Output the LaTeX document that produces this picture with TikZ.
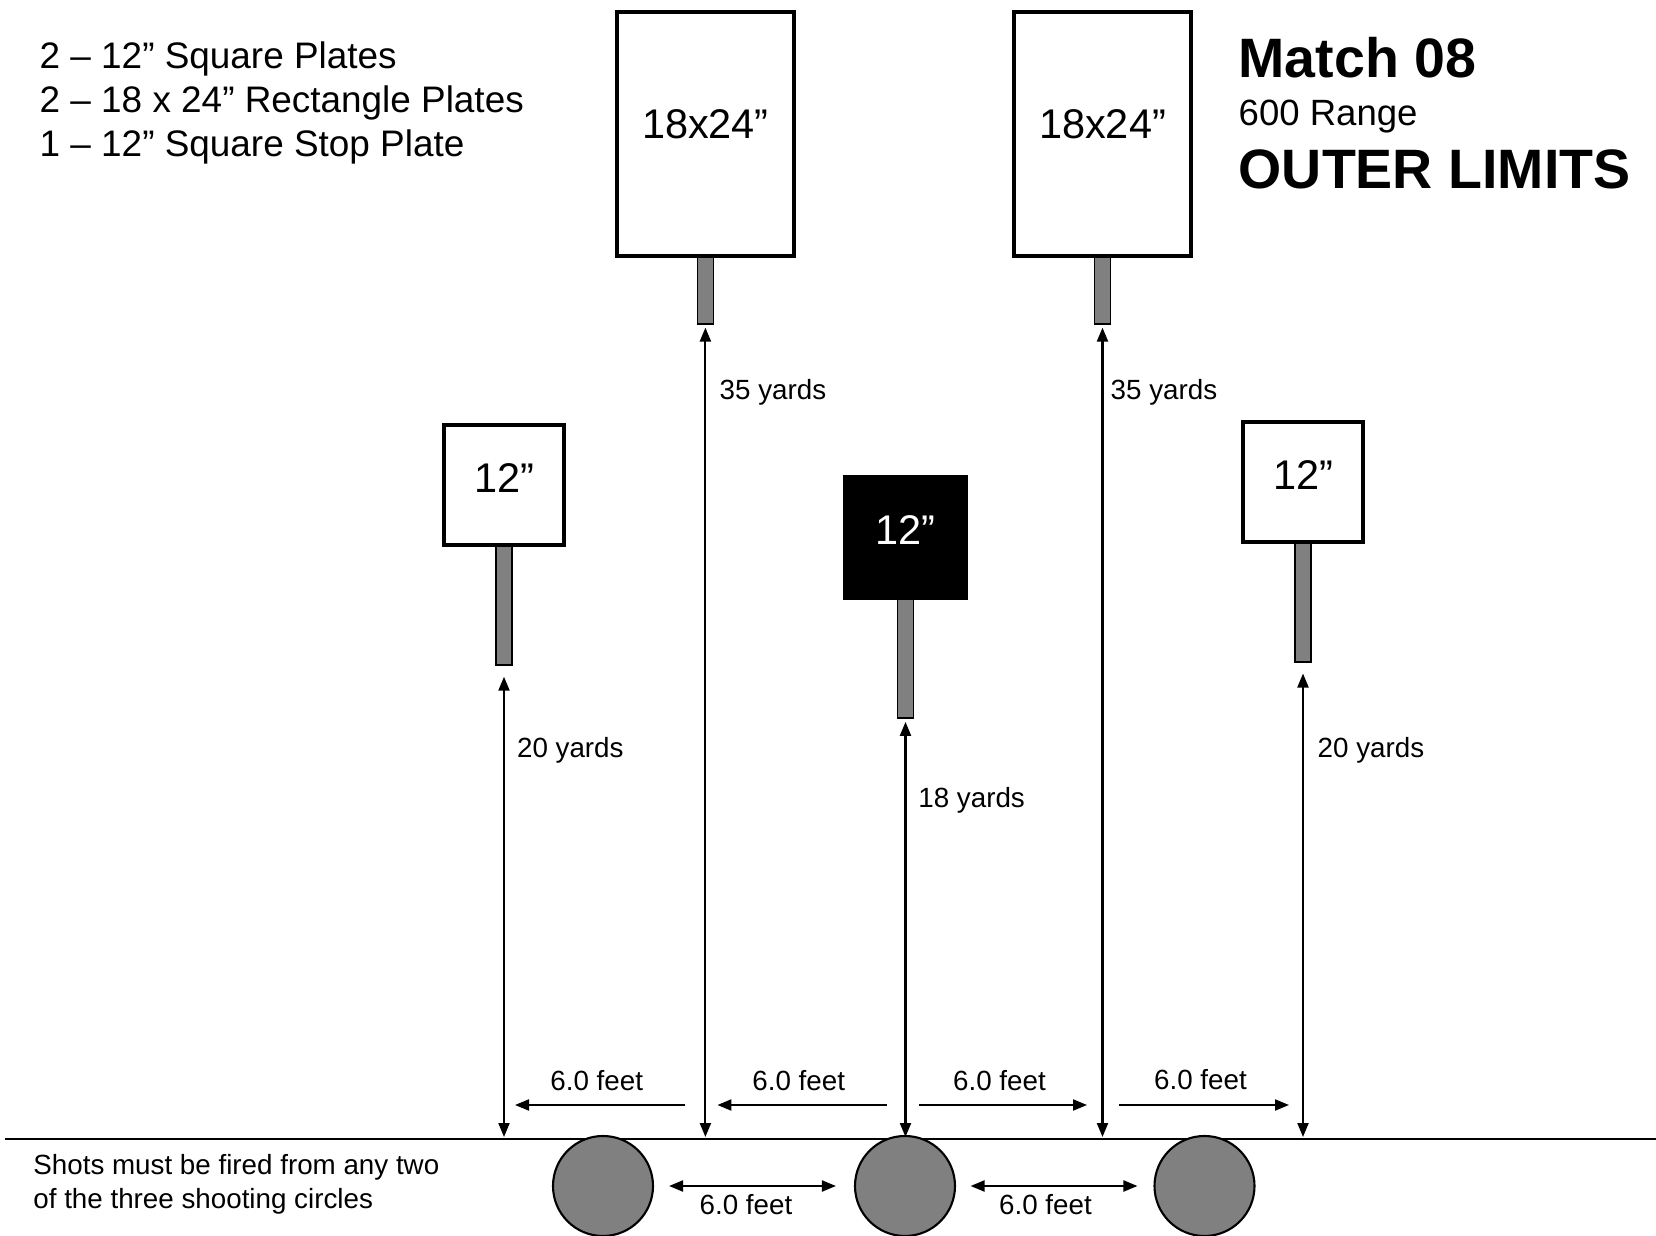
\documentclass[tikz,border=0pt]{standalone}
\usepackage{fontspec}
\setmainfont{Liberation Sans}
\usetikzlibrary{arrows.meta,calc,positioning}

\definecolor{postgray}{RGB}{128,128,128}

\tikzset{
    plate/.style={draw, fill=white, inner sep=0pt, font=\fontsize{11.8}{14}\selectfont},
    rectplate/.style={plate, line width=1.3pt, minimum width=1.77cm, minimum height=2.44cm, text depth=0.2cm},
    sqplate/.style={plate, line width=1.1pt, minimum width=1.2cm, minimum height=1.2cm, text depth=0.14cm},
    stopplate/.style={plate, line width=0.3pt, fill=black, text=white, minimum width=1.24cm, minimum height=1.24cm, text depth=0.14cm},
    post/.style={draw, line width=0.4pt, fill=postgray, inner sep=0pt, minimum width=0.16cm, anchor=north},
    spot/.style={circle, draw, line width=0.6pt, fill=postgray, inner sep=0pt, minimum size=1.0cm},
    dim/.style={line width=0.6pt, {Triangle[length=1.4mm, width=1.1mm]}-{Triangle[length=1.4mm, width=1.1mm]}},
    dimto/.style={line width=0.6pt, -{Triangle[length=1.4mm, width=1.1mm]}},
    lbl/.style={inner sep=0pt, font=\fontsize{7.9}{9.6}\selectfont},
}

\begin{document}
\begin{tikzpicture}
    \useasboundingbox (0,0) rectangle (16.56,-12.36);
    \clip (0,0) rectangle (16.56,-12.36);

    % posts first, plates on top
    \coordinate (rect-l-pos) at (7.054,-1.342);
    \coordinate (rect-r-pos) at (11.025,-1.342);
    \coordinate (sq-l-pos) at (5.04,-4.853);
    \coordinate (sq-r-pos) at (13.03,-4.821);
    \coordinate (stop-pos) at (9.055,-5.375);

    \node[post, minimum height=0.69cm] (post-rl) at ($(rect-l-pos)+(0,-1.20)$) {};
    \node[post, minimum height=0.69cm] (post-rr) at ($(rect-r-pos)+(0,-1.20)$) {};
    \node[post, minimum height=1.19cm] (post-sl) at ($(sq-l-pos)+(0,-0.60)$) {};
    \node[post, minimum height=1.19cm] (post-sr) at ($(sq-r-pos)+(0,-0.60)$) {};
    \node[post, minimum height=1.19cm] (post-stop) at ($(stop-pos)+(0,-0.61)$) {};

    \node[rectplate] (rect-l) at (rect-l-pos) {18x24”};
    \node[rectplate] (rect-r) at (rect-r-pos) {18x24”};
    \node[sqplate] (sq-l) at (sq-l-pos) {12”};
    \node[sqplate] (sq-r) at (sq-r-pos) {12”};
    \node[stopplate] (stop) at (stop-pos) {12”};

    % ground line and shooting circles
    \coordinate (gnd-left) at (0.05,-11.39);
    \coordinate (gnd-right) at (16.56,-11.39);
    \draw[line width=0.5pt] (gnd-left) -- (gnd-right);
    \coordinate (gnd) at (0,-11.37);

    \node[spot] (spot-l) at (6.03,-11.86) {};
    \node[spot] (spot-m) at (9.05,-11.86) {};
    \node[spot] (spot-r) at (12.045,-11.86) {};

    % distances to the plates
    \draw[dim] ($(post-sl.south)+(0,-0.11)$) -- (post-sl.south |- gnd);
    \draw[dim] ($(post-rl.south)+(0,-0.03)$) -- (post-rl.south |- gnd);
    \draw[dim] ($(post-stop.south)+(0,-0.03)$) -- (post-stop.south |- gnd);
    \draw[dim] ($(post-rr.south)+(0,-0.03)$) -- (post-rr.south |- gnd);
    \draw[dim] ($(post-sr.south)+(0,-0.11)$) -- (post-sr.south |- gnd);

    \node[lbl, anchor=west] (yd-sl) at (5.164,-7.507) {20 yards};
    \node[lbl, anchor=west] (yd-rl) at (7.19,-3.927) {35 yards};
    \node[lbl, anchor=west] (yd-stop) at (9.177,-8.004) {18 yards};
    \node[lbl, anchor=west] (yd-rr) at (11.10,-3.927) {35 yards};
    \node[lbl, anchor=west] (yd-sr) at (13.17,-7.507) {20 yards};

    % spacing between the plates
    \coordinate (ft) at (0,-11.05);
    \draw[dimto] ($(post-rl.south |- ft)+(-0.20,0)$) -- ($(post-sl.south |- ft)+(0.11,0)$)
        node[lbl, midway, above=0.13cm, xshift=-0.035cm] (ft-1) {6.0 feet};
    \draw[dimto] ($(post-stop.south |- ft)+(-0.185,0)$) -- ($(post-rl.south |- ft)+(0.12,0)$)
        node[lbl, midway, above=0.13cm, xshift=-0.035cm] (ft-2) {6.0 feet};
    \draw[dimto] ($(post-stop.south |- ft)+(0.135,0)$) -- ($(post-rr.south |- ft)+(-0.155,0)$)
        node[lbl, midway, above=0.13cm, xshift=-0.035cm] (ft-3) {6.0 feet};
    \draw[dimto] ($(post-rr.south |- ft)+(0.165,0)$) -- ($(post-sr.south |- ft)+(-0.14,0)$)
        node[lbl, midway, above=0.14cm, xshift=-0.035cm] (ft-4) {6.0 feet};

    % spacing between the circles
    \draw[dim] ($(spot-l.east)+(0.15,0)$) -- ($(spot-m.west)+(-0.18,0)$)
        node[lbl, midway, below=0.07cm, xshift=-0.065cm] (ft-5) {6.0 feet};
    \draw[dim] ($(spot-m.east)+(0.145,0)$) -- ($(spot-r.west)+(-0.16,0)$)
        node[lbl, midway, below=0.07cm, xshift=-0.085cm] (ft-6) {6.0 feet};

    \node[lbl, anchor=north west, align=left] (rule) at (0.327,-11.54)
        {Shots must be fired from any two\\of the three shooting circles};

    % plate list
    \node[anchor=north west, align=left, inner sep=0pt, font=\fontsize{10.5}{12.5}\selectfont] (list) at (0.39,-0.408)
        {2 – 12” Square Plates\\2 – 18 x 24” Rectangle Plates\\1 – 12” Square Stop Plate};

    % title
    \node[anchor=base west, inner sep=0pt, font=\fontsize{15.8}{18}\selectfont\bfseries] (title) at (12.38,-0.777) {Match 08};
    \node[anchor=base west, inner sep=0pt, font=\fontsize{10.4}{12}\selectfont] (range) at (12.38,-1.26) {600 Range};
    \node[anchor=base west, inner sep=0pt, font=\fontsize{15.8}{18}\selectfont\bfseries] (stage) at (12.38,-1.887) {OUTER LIMITS};
\end{tikzpicture}
\end{document}
